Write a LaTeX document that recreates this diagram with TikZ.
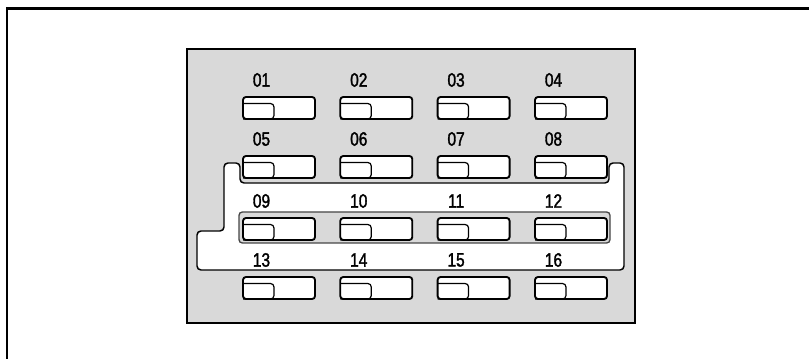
\documentclass[tikz,border=0pt]{standalone}
\usepackage{fontspec}
\newfontfamily\labfont[FakeStretch=0.8,FakeBold=1.6]{Liberation Sans}
\definecolor{panelgray}{HTML}{D9D9D9}
\newcommand{\labsize}{\fontsize{14.5pt}{16pt}\selectfont}
\begin{document}
\begin{tikzpicture}[x=0.75pt,y=-0.75pt,
  frameline/.style={line width=2.2pt},
  panel/.style={draw=black,fill=panelgray,line width=1.4pt},
  whitezone/.style={draw=black,fill=white,line width=1.1pt,rounded corners=3pt},
  groupbox/.style={draw=gray!55!black,fill=panelgray,line width=1pt,rounded corners=2.5pt},
  btn/.style={draw=black,fill=white,line width=1.4pt,rounded corners=2.2pt,
    rectangle,minimum width=54pt,minimum height=16.5pt,inner sep=0pt,outer sep=0pt,anchor=north west},
  ind/.style={draw=black,line width=0.9pt,rounded corners=2.5pt},
  lab/.style={inner sep=0pt}]
\useasboundingbox (0,0) rectangle (809,359);
% outer frame (top and left edges only)
\draw[frameline] (7,359) -- (7,8.5) -- (809,8.5);
% panel
\draw[panel] (187,49) rectangle (635,323);
% white zone outline
\draw[whitezone] (224,163) -- (240,163) -- (240,183) -- (609,183) -- (609,163)
  -- (624,163) -- (624,270) -- (197,270) -- (197,231) -- (224,231) -- cycle;
% inner group box around row 3
\draw[groupbox] (239,212) rectangle (610,243);
% buttons and labels
\foreach \r/\ty in {0/97,1/156,2/218,3/277}{
  \foreach \c/\lx in {0/243,1/340.3,2/437.6,3/535}{
    \pgfmathtruncatemacro\n{4*\r+\c+1}
    \node[btn] (b\n) at (\lx,\ty) {};
    \draw[ind] ([yshift=-4.9pt]b\n.north west) -| ([xshift=23.2pt]b\n.south west) -- (b\n.south west);
    \node[lab] (l\n) at (\lx+18.5,\ty-17) {\labfont\labsize\ifnum\n<10 0\fi\n};
  }
}
\end{tikzpicture}
\end{document}
